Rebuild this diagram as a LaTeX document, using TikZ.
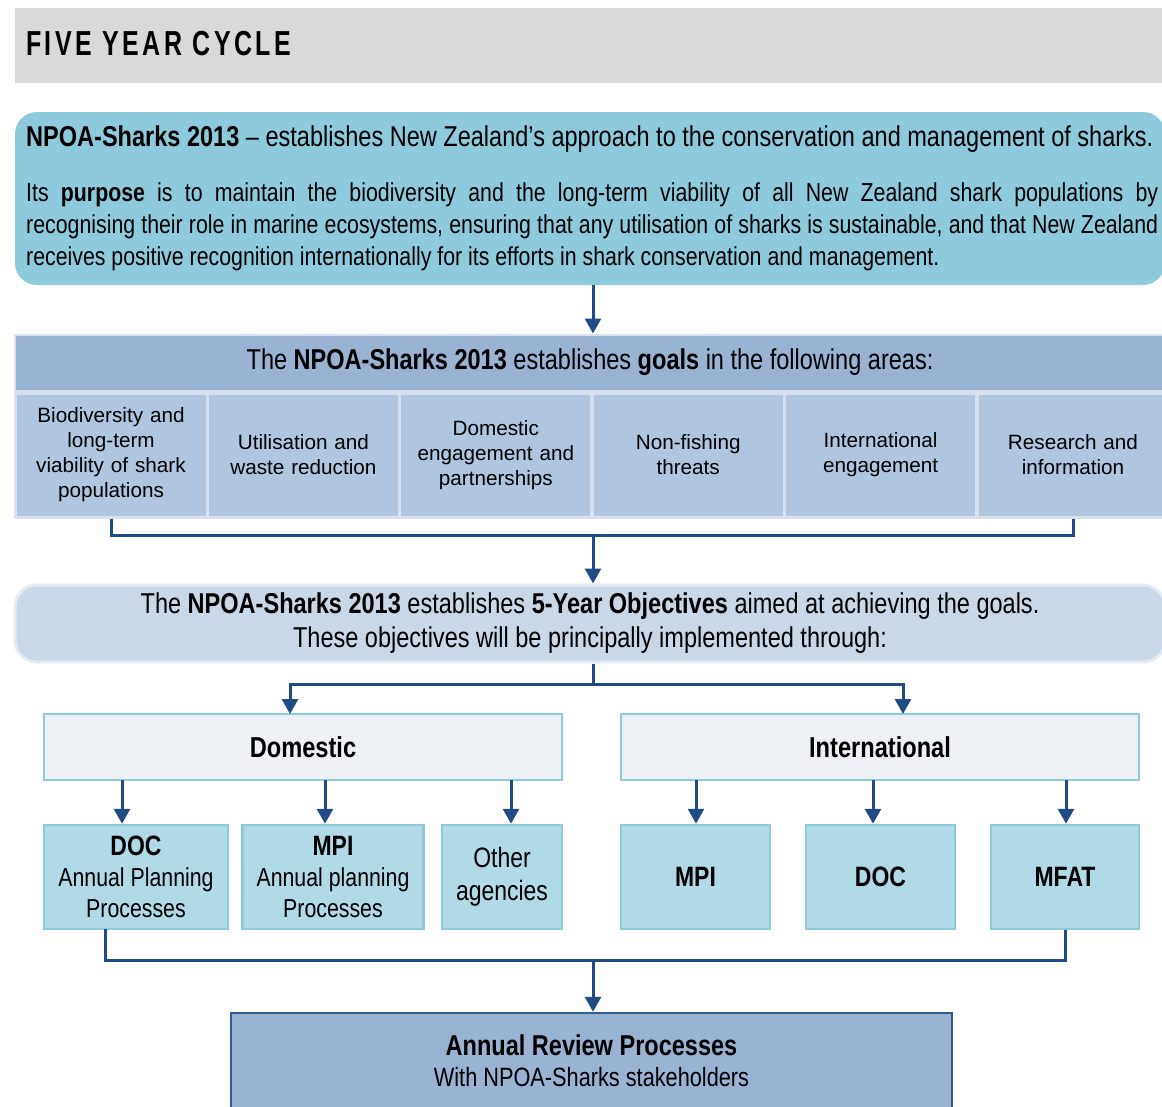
\documentclass[tikz,border=0pt]{standalone}
\usepackage{fontspec}
\setmainfont{Liberation Sans}
\newfontfamily\narrow[FakeStretch=0.82]{Liberation Sans}
\newfontfamily\ttl[FakeStretch=0.72,LetterSpace=10]{Liberation Sans}
\usetikzlibrary{arrows.meta}
\definecolor{bandgrey}{HTML}{D9D9D9}
\definecolor{npoateal}{HTML}{8DCBDC}
\definecolor{headblue}{HTML}{9AB3D2}
\definecolor{cellblue}{HTML}{B0C5DE}
\definecolor{cellline}{HTML}{D7E0EC}
\definecolor{objfill}{HTML}{C9D7E7}
\definecolor{objline}{HTML}{E3EAF2}
\definecolor{groupfill}{HTML}{EDF0F5}
\definecolor{tealline}{HTML}{8DCBDC}
\definecolor{agencyfill}{HTML}{B0DAE6}
\definecolor{arrowblue}{HTML}{1F4C84}
\definecolor{reviewline}{HTML}{2F5A8E}
\tikzstyle{line} = [draw=arrowblue, line width=3pt]
\tikzstyle{arr} = [line, -{Triangle[length=15pt,width=16pt]}]
\tikzstyle{cell} = [rectangle, fill=cellblue, draw=cellline, line width=3pt, minimum width=192pt, minimum height=124pt, inner sep=0pt, text width=180pt, align=center, font=\fontsize{20.7}{25}\selectfont]
\tikzstyle{group} = [rectangle, fill=groupfill, draw=tealline, line width=2.5pt, minimum width=518pt, minimum height=66pt, inner sep=0pt, font=\narrow\bfseries\fontsize{28.8}{30}\selectfont]
\tikzstyle{agency} = [rectangle, fill=agencyfill, draw=tealline, line width=2.5pt, minimum height=104pt, inner sep=0pt, align=center, font=\narrow\fontsize{26}{31}\selectfont]

\begin{document}
\begin{tikzpicture}[x=1pt,y=-1pt]
    \useasboundingbox (0,0) rectangle (1162,1106);
    \coordinate (mid) at (593,0);
    % heading
    \node (band) [rectangle, fill=bandgrey, minimum width=1150pt, minimum height=75pt, inner sep=0pt] at (590,45.5) {};
    \node (title) [anchor=west, inner sep=0pt, font=\ttl\bfseries\fontsize{34.7}{36}\selectfont] at (26,44) {FIVE YEAR CYCLE};
    % npoa box
    \node (npoa) [rectangle, rounded corners=22pt, fill=npoateal, minimum width=1150pt, minimum height=173pt] at (590,198.5) {};
    \node (est) [anchor=base west, inner sep=0pt, font=\narrow\fontsize{28.7}{30}\selectfont] at (26,146) {\textbf{NPOA-Sharks 2013} – establishes New Zealand’s approach to the conservation and management of sharks.};
    \node (purp) [anchor=north west, inner sep=0pt, text width=1132pt, align=justify, font=\narrow\fontsize{26}{32}\selectfont] at (26,182) {Its \textbf{purpose} is to maintain the biodiversity and the long-term viability of all New Zealand shark populations by\linebreak recognising their role in marine ecosystems, ensuring that any utilisation of sharks is sustainable, and that New Zealand\linebreak receives positive recognition internationally for its efforts in shark conservation and management.};
    % goals
    \node (goals) [rectangle, fill=headblue, draw=cellline, line width=2pt, minimum width=1150pt, minimum height=56pt, inner sep=0pt, font=\narrow\fontsize{28.7}{30}\selectfont] at (590,362.5) {The \textbf{NPOA-Sharks 2013} establishes \textbf{goals} in the following areas:};
    \node (g1) [cell] at (111,455) {Biodiversity and\\long-term\\viability of shark\\populations};
    \node (g2) [cell] at (303.4,455) {Utilisation and\\waste reduction};
    \node (g3) [cell] at (495.8,455) {Domestic\\engagement and\\partnerships};
    \node (g4) [cell] at (688.2,455) {Non-fishing\\threats};
    \node (g5) [cell] at (880.6,455) {International\\engagement};
    \node (g6) [cell] at (1073,455) {Research and\\information};
    % objectives
    \node (obj) [rectangle, rounded corners=22pt, fill=objfill, draw=objline, line width=3pt, minimum width=1150pt, minimum height=77pt, inner sep=0pt, align=center, font=\narrow\fontsize{28.7}{34}\selectfont] at (590,623.5) {The \textbf{NPOA-Sharks 2013} establishes \textbf{5-Year Objectives} aimed at achieving the goals.\\These objectives will be principally implemented through:};
    \node (dom) [group] at (303,747) {Domestic};
    \node (intl) [group] at (880,747) {International};
    % agencies
    \node (doc1) [agency, minimum width=184pt] at (136,877) {\textbf{\fontsize{28}{31}\selectfont DOC}\\Annual Planning\\Processes};
    \node (mpi1) [agency, minimum width=181pt] at (333,877) {\textbf{\fontsize{28}{31}\selectfont MPI}\\Annual planning\\Processes};
    \node (oth) [agency, minimum width=120pt, font=\narrow\fontsize{28}{33}\selectfont] at (502,877) {Other\\agencies};
    \node (mpi2) [agency, minimum width=149pt, font=\narrow\bfseries\fontsize{28}{31}\selectfont] at (695.5,877) {MPI};
    \node (doc2) [agency, minimum width=149pt, font=\narrow\bfseries\fontsize{28}{31}\selectfont] at (880.5,877) {DOC};
    \node (mfat) [agency, minimum width=148pt, font=\narrow\bfseries\fontsize{28}{31}\selectfont] at (1065,877) {MFAT};
    % review
    \node (rev) [rectangle, fill=headblue, draw=reviewline, line width=2.5pt, minimum width=721pt, minimum height=110pt, inner sep=0pt] at (591.5,1068) {};
    \node (revt) [align=center, inner sep=0pt, font=\narrow\fontsize{26.5}{31}\selectfont] at (591.5,1061) {\textbf{\fontsize{28.7}{31}\selectfont Annual Review Processes}\\With NPOA-Sharks stakeholders};
    % connectors
    \draw[arr] (npoa.south -| mid) -- (goals.north -| mid);
    \coordinate (j1) at (593,535);
    \draw[line] (g1.south) |- (j1) -| (g6.south);
    \draw[arr] (j1) -- (obj.north -| mid);
    \coordinate (j2) at (593,684);
    \coordinate (d0) at (290,714);
    \coordinate (i0) at (903,714);
    \draw[line] (obj.south -| mid) -- (j2);
    \draw[arr] (j2) -| (d0);
    \draw[arr] (j2) -| (i0);
    \coordinate (a1) at (122,780);
    \coordinate (a2) at (325,780);
    \coordinate (a3) at (511,780);
    \coordinate (a4) at (696,780);
    \coordinate (a5) at (873,780);
    \coordinate (a6) at (1066,780);
    \draw[arr] (a1) -- (a1 |- doc1.north);
    \draw[arr] (a2) -- (a2 |- mpi1.north);
    \draw[arr] (a3) -- (a3 |- oth.north);
    \draw[arr] (a4) -- (a4 |- mpi2.north);
    \draw[arr] (a5) -- (a5 |- doc2.north);
    \draw[arr] (a6) -- (a6 |- mfat.north);
    \coordinate (j3) at (593,960);
    \coordinate (b1) at (105,929);
    \draw[line] (b1) |- (j3) -| (mfat.south);
    \draw[arr] (j3) -- (rev.north -| mid);
\end{tikzpicture}
\end{document}
